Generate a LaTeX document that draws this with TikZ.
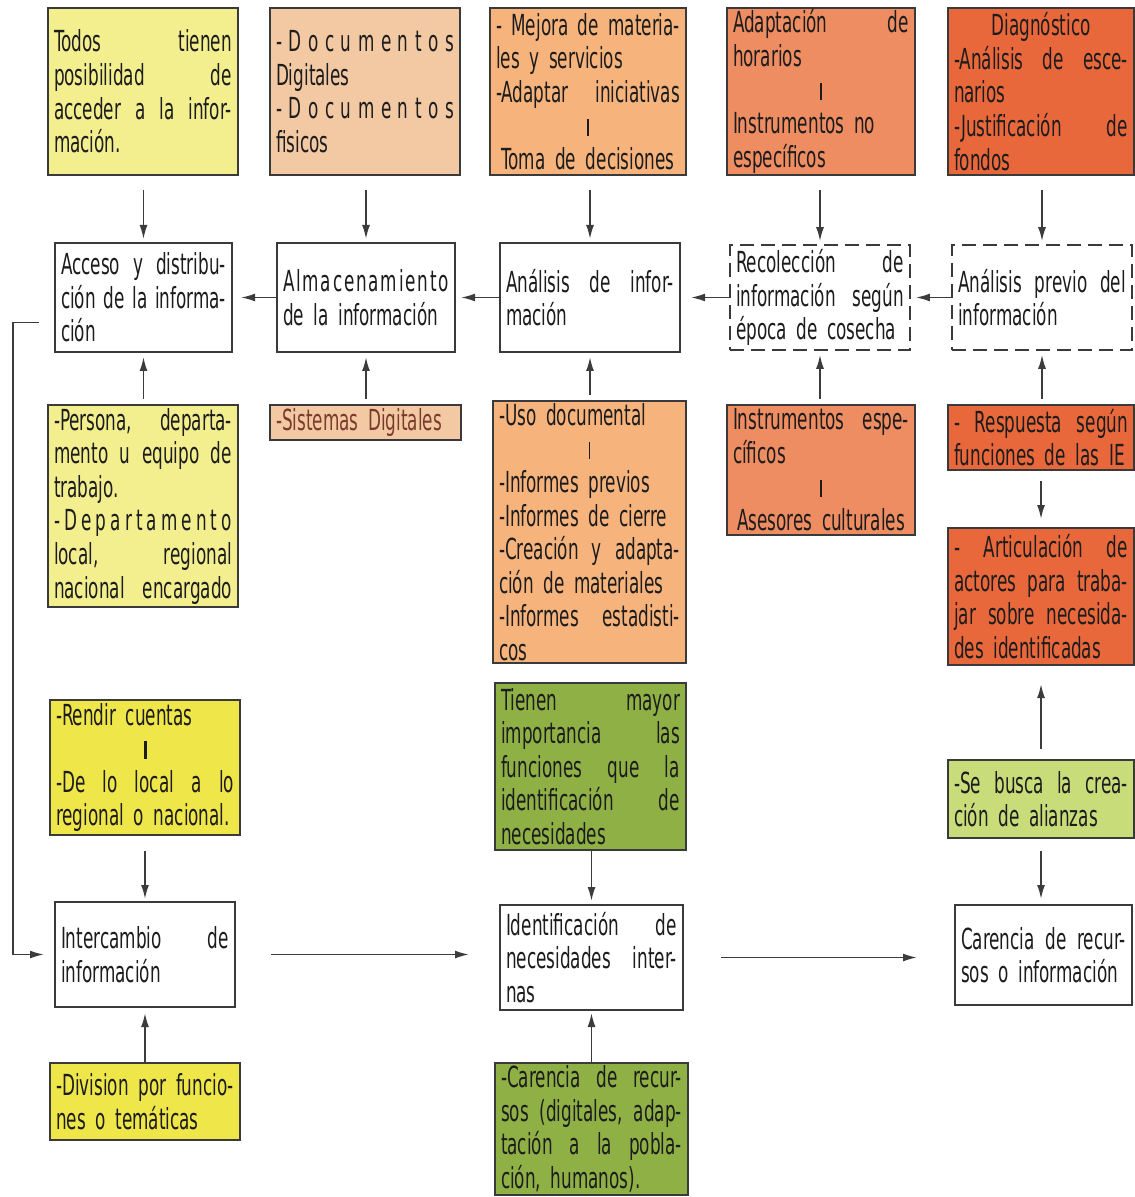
\documentclass[tikz,border=0pt]{standalone}
\usepackage{fontspec}
\setmainfont{DejaVu Sans Condensed}[FakeStretch=0.645]
\usetikzlibrary{arrows.meta,calc}

\definecolor{edge}{HTML}{3A3A3A}
\definecolor{ink}{HTML}{1C1C1C}
\definecolor{ink2}{HTML}{3C3C3C}
\definecolor{yelL}{HTML}{F3EF8F}
\definecolor{peach}{HTML}{F2C9A3}
\definecolor{orL}{HTML}{F6B37C}
\definecolor{salmon}{HTML}{EE8C62}
\definecolor{redO}{HTML}{E8683C}
\definecolor{yel}{HTML}{EFE64A}
\definecolor{grn}{HTML}{8FB045}
\definecolor{grnL}{HTML}{C8DC7A}
\definecolor{brownT}{HTML}{7A3B2E}

% text helpers: justified line (spaces stretch or shrink), unbroken line,
% centred line, separator bar
\newcommand\jl[1]{{\spaceskip=.3333em plus 1fil minus .15em\xspaceskip=.5em plus 1fil minus .15em\makebox[\hsize][s]{#1}}}
\newcommand\nw[1]{\mbox{#1}}
\newcommand\cl[1]{\makebox[\hsize][c]{#1}}
\newcommand\sepbar{\cl{\rule{0.7pt}{8.5pt}}}
\newcommand\fs{\fontsize{14.5}{16.8}\selectfont}

% box from pixel corners: [style]{name}{left}{top}{right}{bottom}{text}
\newcommand\mkbox[7][]{%
  \pgfmathsetlengthmacro\bw{(#5-#3)*0.5pt}%
  \pgfmathsetlengthmacro\bh{(#6-#4)*0.5pt}%
  \pgfmathsetlengthmacro\tw{(#5-#3)*0.5pt-6pt}%
  \node[#1, minimum width=\bw, minimum height=\bh, text width=\tw]
    (#2) at ({(#3+#5)/2},{(#4+#6)/2}) {#7};}

\tikzset{
  bx/.style={rectangle, draw=edge, line width=1pt, inner xsep=3pt,
    inner ysep=1pt, align=left, font=\fs, text=ink},
  dbx/.style={bx, line width=0.8pt, dash pattern=on 7pt off 3.5pt},
  arr/.style={draw=ink2, line width=0.9pt, -{Latex[length=7pt,width=4pt]}},
}

\begin{document}
\begin{tikzpicture}[x=0.5pt,y=-0.5pt]
\useasboundingbox (0,0) rectangle (1134,1197);

% top row
\mkbox[bx,fill=yelL]{t1}{48}{8}{238}{175}{\jl{Todos tienen}\\ \jl{posibilidad de}\\ \jl{acceder a la infor-}\\ mación.\\[6pt]}
\mkbox[bx,fill=peach]{t2}{270}{8}{460}{175}{\jl{-\hfill D\hfill o\hfill c\hfill u\hfill m\hfill e\hfill n\hfill t\hfill o\hfill s}\\ Digitales\\ \jl{-\hfill D\hfill o\hfill c\hfill u\hfill m\hfill e\hfill n\hfill t\hfill o\hfill s}\\ fisicos\\[6pt]}
\mkbox[bx,fill=orL]{t3}{490}{8}{686}{175}{\jl{- Mejora de materia-}\\ les y servicios\\ \jl{-Adaptar iniciativas}\\ \sepbar\\ \cl{Toma de decisiones}}
\mkbox[bx,fill=salmon]{t4}{727}{8}{915}{175}{\jl{Adaptación de}\\ horarios\\ \sepbar\\ Instrumentos no\\ específicos}
\mkbox[bx,fill=redO]{t5}{948}{8}{1134}{175}{\cl{Diagnóstico}\\ \jl{-Análisis de esce-}\\ narios\\ \jl{-Justificación de}\\ fondos}

% process row
\mkbox[bx,fill=white]{acc}{55}{243}{232}{352}{\jl{Acceso y distribu-}\\ \jl{ción de la informa-}\\ ción}
\mkbox[bx,fill=white]{alm}{277}{243}{455}{352}{\jl{A\hfill l\hfill m\hfill a\hfill c\hfill e\hfill n\hfill a\hfill m\hfill i\hfill e\hfill n\hfill t\hfill o}\\ \nw{de la información}}
\mkbox[bx,fill=white]{ana}{500}{243}{680}{352}{\jl{Análisis de infor-}\\ mación}
\mkbox[dbx,fill=white]{rec}{730}{245}{910}{350}{\jl{Recolección de}\\ \jl{información según}\\ \nw{época de cosecha}}
\mkbox[dbx,fill=white]{pre}{952}{245}{1132}{350}{\jl{Análisis previo del}\\ información\\[5pt]}

% inputs below the process row
\mkbox[bx,fill=yelL]{per}{48}{405}{238}{607}{\jl{-Persona, departa-}\\ \jl{mento u equipo de}\\ trabajo.\\ \jl{-\hfill D\hfill e\hfill p\hfill a\hfill r\hfill t\hfill a\hfill m\hfill e\hfill n\hfill t\hfill o}\\ \jl{local, regional}\\ \jl{nacional encargado}}
\mkbox[bx,fill=peach,text=brownT]{sis}{270}{405}{461}{440}{\nw{-Sistemas Digitales}}
\mkbox[bx,fill=orL]{uso}{493}{405}{686}{659}{-Uso documental\\ \sepbar\\ -Informes previos\\ \nw{-Informes de cierre}\\ \jl{-Creación y adapta-}\\ \nw{ción de materiales}\\ \jl{-Informes estadisti-}\\ cos}
\mkbox[bx,fill=salmon]{ins}{727}{405}{915}{535}{\jl{Instrumentos espe-}\\ cíficos\\ \sepbar\\ \cl{Asesores culturales}}
\mkbox[bx,fill=redO]{res}{948}{405}{1134}{470}{\jl{- Respuesta según}\\ \nw{funciones de las IE}}
\mkbox[bx,fill=redO]{art}{948}{528}{1134}{665}{\jl{- Articulación de}\\ \jl{actores para traba-}\\ \jl{jar sobre necesida-}\\ \nw{des identificadas}}

% lower part
\mkbox[bx,fill=yel]{ren}{50}{700}{240}{835}{-Rendir cuentas\\ \cl{\rule{1.5pt}{9pt}}\\ \jl{-De lo local a lo}\\ \nw{regional o nacional.}}
\mkbox[bx,fill=grn]{tie}{495}{683}{686}{850}{\jl{Tienen mayor}\\ \jl{importancia las}\\ \jl{funciones que la}\\ \jl{identificación de}\\ necesidades}
\mkbox[bx,fill=grnL]{seb}{948}{760}{1134}{838}{\jl{-Se busca la crea-}\\ \nw{ción de alianzas}}

\mkbox[bx,fill=white]{int}{55}{902}{235}{1007}{\jl{Intercambio de}\\ información}
\mkbox[bx,fill=white]{ide}{500}{905}{683}{1010}{\jl{Identificación de}\\ \jl{necesidades inter-}\\ nas}
\mkbox[bx,fill=white]{car}{955}{905}{1132}{1005}{\jl{Carencia de recur-}\\ \nw{sos o información}}

\mkbox[bx,fill=yel]{div}{50}{1063}{240}{1140}{\jl{-Division por funcio-}\\ \nw{nes o temáticas}}
\mkbox[bx,fill=grn]{cr2}{495}{1063}{688}{1195}{\jl{-Carencia de recur-}\\ \jl{sos (digitales, adap-}\\ \jl{tación a la pobla-}\\ \nw{ción, humanos).}}

% top row feeds the process row
\draw[arr, shorten <=7pt, shorten >=1.5pt] (t1.south -| acc.north) -- (acc.north);
\draw[arr, shorten <=7pt, shorten >=1.5pt] (t2.south -| alm.north) -- (alm.north);
\draw[arr, shorten <=7pt, shorten >=1.5pt] (t3.south -| ana.north) -- (ana.north);
\draw[arr, shorten <=7pt, shorten >=1.5pt] (t4.south -| rec.north) -- (rec.north);
\draw[arr, shorten <=7pt, shorten >=1.5pt] (t5.south -| pre.north) -- (pre.north);

% process chain, right to left
\draw[arr, shorten >=4pt] (alm.west) -- (alm.west -| acc.east);
\draw[arr, shorten >=2.5pt] (ana.west) -- (ana.west -| alm.east);
\draw[arr, shorten >=5pt] (rec.west) -- (rec.west -| ana.east);
\draw[arr, shorten >=2.5pt] (pre.west) -- (pre.west -| rec.east);

% inputs from below
\draw[arr, shorten <=2.5pt, shorten >=2pt] (per.north -| acc.south) -- (acc.south);
\draw[arr, shorten <=2.5pt, shorten >=2pt] (sis.north -| alm.south) -- (alm.south);
\draw[arr, shorten <=2.5pt, shorten >=2pt] (uso.north -| ana.south) -- (ana.south);
\draw[arr, shorten <=2.5pt, shorten >=2pt] (ins.north -| rec.south) -- (rec.south);
\draw[arr, shorten <=2.5pt, shorten >=2pt] (res.north -| pre.south) -- (pre.south);

% right column
\draw[arr, shorten <=5pt, shorten >=4pt] (res.south) -- (art.north);
\draw[arr, shorten <=5pt, shorten >=9pt] (seb.north) -- (art.south);
\draw[arr, shorten <=6pt, shorten >=2.5pt] (seb.south) -- (seb.south |- car.north);

% left and middle columns
\draw[arr, shorten <=7.5pt, shorten >=1pt] (ren.south -| int.north) -- (int.north);
\draw[arr, shorten >=2.5pt] (div.north -| int.south) -- (int.south);
\draw[arr, shorten >=1.5pt] (tie.south -| ide.north) -- (ide.north);
\draw[arr, shorten >=1pt] (cr2.north -| ide.south) -- (ide.south);

% bottom chain
\draw[arr, shorten <=17.5pt, shorten >=15pt] (int.east) -- (int.east -| ide.west);
\draw[arr, shorten <=18.5pt, shorten >=18.5pt] (ide.east) -- (ide.east -| car.west);

% feedback from access to exchange
\draw[arr, shorten >=5pt] ($(acc.west)+(-15,25)$) -- ++(-26,0) |- (int.west);
\end{tikzpicture}
\end{document}
